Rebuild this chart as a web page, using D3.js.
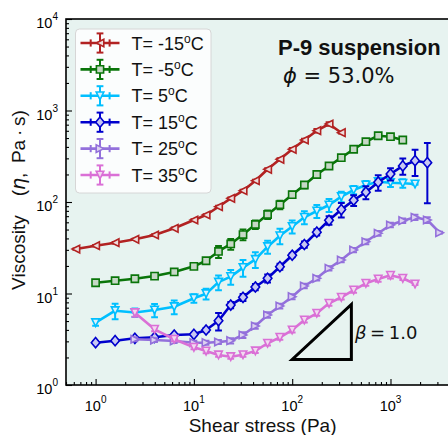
<!DOCTYPE html>
<html>
<head>
<meta charset="utf-8">
<script src="https://cdn.jsdelivr.net/npm/d3@7"></script>
<style>
  body { margin: 0; background: #ffffff; }
  svg { display: block; }
</style>
</head>
<body>
<svg id="chart" width="448" height="435"></svg>
<script>
// Shear stress (Pa), viscosity (Pa·s) and its error for each temperature
const stressM15 = [0.63, 1.0, 1.58, 2.51, 3.98, 6.31, 10.0, 13.3, 17.8, 23.7, 31.6, 42.2, 56.2, 75.0, 100, 133, 178, 237, 316];
const etaM15    = [30.6, 33.3, 35.9, 39.1, 43.6, 51.6, 63.6, 72.1, 88.8, 109.7, 132.9, 170.9, 227.7, 292.9, 376.7, 476, 601.6, 712, 572];
const errM15    = [0.5, 0.5, 0.6, 0.6, 0.7, 0.9, 1.2, 1.5, 2, 2.5, 3, 4, 6, 8, 12, 15, 25, 30, 10];

const stressM5 = [1.0, 1.58, 2.51, 3.98, 6.31, 10.0, 13.3, 17.8, 23.7, 31.6, 42.2, 56.2, 75.0, 100, 133, 178, 237, 316, 422, 562, 750, 1000, 1334];
const etaM5    = [13.1, 13.8, 14.5, 15.5, 17.2, 19.8, 22.8, 28.8, 34.8, 44.1, 56.8, 73.0, 93.4, 120.2, 153.4, 199.8, 247.4, 305, 377, 456, 530, 517, 476];
const errM5    = [0.3, 0.3, 0.3, 0.4, 0.8, 1.0, 1.5, 4.3, 4.7, 5.9, 6.0, 7.7, 10, 9.4, 12, 10, 12, 15, 10, 12, 13, 13, 12];

const stressP5 = [1.0, 1.58, 2.51, 3.98, 6.31, 10.0, 13.3, 17.8, 23.7, 31.6, 42.2, 56.2, 75.0, 100, 133, 178, 237, 316, 422, 562, 750, 1000, 1334, 1778];
const etaP5    = [4.80, 6.49, 6.20, 6.60, 7.17, 8.88, 9.95, 13.3, 15.3, 19.2, 23.6, 32.5, 42.7, 54.0, 68.0, 79.7, 92.7, 114.3, 135.2, 153.4, 166.7, 162.5, 160.1, 157.3];
const errP5    = [0.37, 1.25, 0.66, 1.1, 1.23, 0.94, 1.33, 2.45, 2.8, 4.0, 4.6, 5.3, 8.2, 8.8, 11, 13, 15, 15, 14, 16, 13, 17, 17, 3];

const stressP15 = [1.0, 1.58, 2.51, 3.98, 6.31, 10.0, 13.3, 17.8, 23.7, 31.6, 42.2, 56.2, 75.0, 100, 133, 178, 237, 316, 422, 562, 750, 1000, 1334, 1778, 2371];
const etaP15    = [2.90, 3.05, 3.24, 3.32, 3.52, 3.58, 3.99, 5.04, 7.48, 9.09, 11.78, 14.66, 19.63, 26.2, 34.3, 46.8, 63.1, 82.6, 104.4, 128, 164.6, 202.3, 248.1, 282.7, 268.8];
const errP15    = [0.1, 0.1, 0.1, 0.1, 0.1, 0.1, 0.2, 1.1, 0.6, 0.8, 0.9, 1.5, 1.5, 1.3, 2.7, 3.7, 6.7, 15, 14, 21, 32, 31, 50, 90, 172];

const stressP25 = [2.51, 3.98, 6.31, 10.0, 13.3, 17.8, 23.7, 31.6, 42.2, 56.2, 75.0, 100, 133, 178, 237, 316, 422, 562, 750, 1000, 1334, 1778, 2371, 3162];
const etaP25    = [3.16, 3.10, 3.03, 2.90, 2.90, 2.95, 3.05, 3.52, 4.41, 5.82, 7.30, 9.23, 12.08, 14.66, 18.86, 23.2, 29.9, 36.8, 45.5, 56.1, 62.5, 68.0, 63.6, 46.2];
const errP25    = [0.15, 0.15, 0.15, 0.15, 0.15, 0.15, 0.2, 0.25, 0.3, 0.4, 0.45, 0.6, 0.7, 0.8, 1.0, 1.3, 1.6, 2.2, 2.6, 3.2, 3.5, 4.5, 4.5, 1.0];

const stressP35 = [2.51, 3.98, 6.31, 10.0, 13.3, 17.8, 23.7, 31.6, 42.2, 56.2, 75.0, 100, 133, 178, 237, 316, 422, 562, 750, 1000, 1334, 1778];
const etaP35    = [6.17, 4.06, 3.16, 2.58, 2.35, 2.13, 2.04, 2.14, 2.36, 2.86, 3.32, 3.99, 5.13, 6.08, 7.81, 9.09, 10.9, 12.93, 14.4, 15.8, 14.66, 12.7];
const errP35    = [0.6, 0.2, 0.15, 0.12, 0.12, 0.1, 0.1, 0.1, 0.12, 0.15, 0.2, 0.25, 0.3, 0.35, 0.45, 0.5, 0.7, 0.8, 1.0, 1.2, 0.6, 0.3];

const tempLabels = ["-15", "-5", "5", "15", "25", "35"];
const xTickValues = [1, 10, 100, 1000];
const xTickExps = ["0", "1", "2", "3"];
const yTickValues = [1, 10, 100, 1000, 10000];
const yTickExps = ["0", "1", "2", "3", "4"];

// Slope guide: β = 1.0
const slopeBeta = 1.0;
const slopeStart = [100, 1.9];
const slopeEnd = 400;

const series = [
  { t: tempLabels[0], x: stressM15, y: etaM15, e: errM15, color: "#b22222", fill: "#eddcdc", marker: "left" },
  { t: tempLabels[1], x: stressM5,  y: etaM5,  e: errM5,  color: "#0a750a", fill: "#c6d8c6", marker: "square" },
  { t: tempLabels[2], x: stressP5,  y: etaP5,  e: errP5,  color: "#00bfff", fill: "#dcf1fb", marker: "down" },
  { t: tempLabels[3], x: stressP15, y: etaP15, e: errP15, color: "#0000cd", fill: "#c8c8f2", marker: "diamond" },
  { t: tempLabels[4], x: stressP25, y: etaP25, e: errP25, color: "#9370db", fill: "#dcd2f0", marker: "right" },
  { t: tempLabels[5], x: stressP35, y: etaP35, e: errP35, color: "#da70d6", fill: "#f2d9f0", marker: "down" }
];

const L = 66, T = 19, B = 385, R = 459.2;
const x = d3.scaleLog().domain([0.5, 5000]).range([L, R]);
const y = d3.scaleLog().domain([1, 10000]).range([B, T]);

const svg = d3.select("#chart");
const sansFont = "'Liberation Sans', Arial, Helvetica, sans-serif";
const mathFont = "'DejaVu Sans', sans-serif";

svg.append("defs").append("clipPath").attr("id", "plotClip")
  .append("rect").attr("x", L).attr("y", T).attr("width", R - L).attr("height", B - T);

// plot background
svg.append("rect").attr("x", L).attr("y", T).attr("width", R - L).attr("height", B - T)
  .attr("fill", "#e7f3f0");

function markerPath(type) {
  const r = 3.8;
  switch (type) {
    case "left":   return `M${-r},0L${r},${-r}L${r},${r}Z`;
    case "right":  return `M${r},0L${-r},${-r}L${-r},${r}Z`;
    case "down":   return `M0,${r}L${-r},${-r}L${r},${-r}Z`;
    case "square": { const s = 3.6; return `M${-s},${-s}H${s}V${s}H${-s}Z`; }
    case "diamond": return `M0,${-5.1}L${4.3},0L0,${5.1}L${-4.3},0Z`;
  }
}

const plot = svg.append("g").attr("clip-path", "url(#plotClip)");

// slope triangle
const slopeTop = slopeStart[1] * Math.pow(slopeEnd / slopeStart[0], slopeBeta);
plot.append("path")
  .attr("d", `M${x(slopeStart[0])},${y(slopeStart[1])}L${x(slopeEnd)},${y(slopeStart[1])}L${x(slopeEnd)},${y(slopeTop)}Z`)
  .attr("fill", "none").attr("stroke", "#000").attr("stroke-width", 3).attr("stroke-linejoin", "miter");

const line = d3.line().x(d => x(d[0])).y(d => y(d[1]));
const capHalf = 3.4;

series.forEach(s => {
  const pts = s.x.map((v, i) => [v, s.y[i], s.e[i]]);
  const g = plot.append("g");
  // error bars
  const eb = g.append("g").attr("stroke", s.color).attr("stroke-width", 2);
  pts.forEach(p => {
    const lo = Math.max(p[1] - p[2], 0.01), hi = p[1] + p[2];
    const px = x(p[0]);
    eb.append("line").attr("x1", px).attr("x2", px).attr("y1", y(lo)).attr("y2", y(hi));
    eb.append("line").attr("x1", px - capHalf).attr("x2", px + capHalf).attr("y1", y(lo)).attr("y2", y(lo));
    eb.append("line").attr("x1", px - capHalf).attr("x2", px + capHalf).attr("y1", y(hi)).attr("y2", y(hi));
  });
  g.append("path").datum(pts).attr("d", line)
    .attr("fill", "none").attr("stroke", s.color).attr("stroke-width", 2.6).attr("stroke-linejoin", "round");
  g.selectAll("path.mk").data(pts).join("path").attr("class", "mk")
    .attr("transform", p => `translate(${x(p[0])},${y(p[1])})`)
    .attr("d", markerPath(s.marker))
    .attr("fill", s.fill).attr("stroke", s.color).attr("stroke-width", 1.6);
});

// ticks (pointing inward)
const isMajor = v => Math.abs(Math.log10(v) - Math.round(Math.log10(v))) < 1e-9;
const xMinor = x.ticks().filter(v => !isMajor(v));
const yMinor = y.ticks().filter(v => !isMajor(v));

function styleAxis(g) {
  g.select(".domain").remove();
  g.selectAll("line").attr("stroke", "#000").attr("stroke-width", 1.1);
  g.selectAll("text").remove();
}
svg.append("g").attr("transform", `translate(0,${B})`)
  .call(d3.axisBottom(x).tickValues(xTickValues).tickSize(-6).tickSizeOuter(0).tickFormat(""))
  .call(styleAxis);
svg.append("g").attr("transform", `translate(0,${B})`)
  .call(d3.axisBottom(x).tickValues(xMinor).tickSize(-3).tickSizeOuter(0).tickFormat(""))
  .call(styleAxis);
svg.append("g").attr("transform", `translate(${L},0)`)
  .call(d3.axisLeft(y).tickValues(yTickValues).tickSize(-6).tickSizeOuter(0).tickFormat(""))
  .call(styleAxis);
svg.append("g").attr("transform", `translate(${L},0)`)
  .call(d3.axisLeft(y).tickValues(yMinor).tickSize(-3).tickSizeOuter(0).tickFormat(""))
  .call(styleAxis);

// frame
svg.append("rect").attr("x", L).attr("y", T).attr("width", R - L).attr("height", B - T)
  .attr("fill", "none").attr("stroke", "#000").attr("stroke-width", 1.6);

// tick labels 10^n
xTickValues.forEach((v, i) => {
  const t = svg.append("text").attr("x", x(v)).attr("y", 411)
    .attr("text-anchor", "middle").attr("font-family", sansFont).attr("font-size", 14.5).attr("fill", "#000");
  t.append("tspan").text("10");
  t.append("tspan").attr("dy", -8).attr("font-size", 10).text(xTickExps[i]);
});
yTickValues.forEach((v, i) => {
  const t = svg.append("text").attr("x", 58).attr("y", y(v) + 9)
    .attr("text-anchor", "end").attr("font-family", sansFont).attr("font-size", 14.5).attr("fill", "#000");
  t.append("tspan").text("10");
  t.append("tspan").attr("dy", -8).attr("font-size", 10).text(yTickExps[i]);
});

// axis titles
svg.append("text").attr("x", (L + R) / 2).attr("y", 432).attr("text-anchor", "middle")
  .attr("font-family", sansFont).attr("font-size", 19).attr("fill", "#111").text("Shear stress (Pa)");
const yl = svg.append("text").attr("transform", `translate(25,200) rotate(-90)`)
  .attr("text-anchor", "middle").attr("font-family", sansFont).attr("font-size", 19).attr("fill", "#111");
yl.append("tspan").text("Viscosity\u2003(");
yl.append("tspan").attr("font-family", mathFont).attr("font-style", "italic").text("\u03b7");
yl.append("tspan").text(",\u2002Pa\u2009\u00b7\u2009s)");

// annotations
svg.append("text").attr("x", 278).attr("y", 55).attr("font-family", sansFont).attr("font-weight", "bold")
  .attr("font-size", 22).attr("fill", "#111").text("P-9 suspension");
const phi = svg.append("text").attr("x", 283).attr("y", 83).attr("font-family", mathFont)
  .attr("font-size", 21).attr("fill", "#111");
phi.append("tspan").attr("font-style", "italic").text("\u03d5");
phi.append("tspan").text(" = 53.0%");
const beta = svg.append("text").attr("x", 355).attr("y", 339).attr("font-family", mathFont)
  .attr("font-size", 18).attr("fill", "#111");
beta.append("tspan").attr("font-style", "italic").text("\u03b2");
beta.append("tspan").text("\u2009=\u2009" + slopeBeta.toFixed(1));

// legend
const lg = svg.append("g");
lg.append("rect").attr("x", 75.5).attr("y", 29).attr("width", 135.5).attr("height", 164).attr("rx", 4)
  .attr("fill", "#ffffff").attr("fill-opacity", 0.82).attr("stroke", "#d6d6d6").attr("stroke-width", 1);
series.forEach((s, i) => {
  const cy = 43 + i * 26.4;
  const cx = 100;
  const h = lg.append("g").attr("stroke", s.color);
  h.append("line").attr("x1", 80.5).attr("x2", 119.5).attr("y1", cy).attr("y2", cy).attr("stroke-width", 2.6);
  h.append("line").attr("x1", 90.7).attr("x2", 90.7).attr("y1", cy - 3.6).attr("y2", cy + 3.6).attr("stroke-width", 2);
  h.append("line").attr("x1", 109.6).attr("x2", 109.6).attr("y1", cy - 3.6).attr("y2", cy + 3.6).attr("stroke-width", 2);
  h.append("line").attr("x1", cx).attr("x2", cx).attr("y1", cy - 9.6).attr("y2", cy + 9.6).attr("stroke-width", 2);
  h.append("line").attr("x1", cx - capHalf).attr("x2", cx + capHalf).attr("y1", cy - 9.6).attr("y2", cy - 9.6).attr("stroke-width", 2);
  h.append("line").attr("x1", cx - capHalf).attr("x2", cx + capHalf).attr("y1", cy + 9.6).attr("y2", cy + 9.6).attr("stroke-width", 2);
  h.append("path").attr("transform", `translate(${cx},${cy})`).attr("d", markerPath(s.marker))
    .attr("fill", s.fill).attr("stroke-width", 1.6);
  const t = lg.append("text").attr("x", 131.5).attr("y", cy + 6.5)
    .attr("font-family", sansFont).attr("font-size", 18).attr("fill", "#111");
  t.append("tspan").text("T= " + s.t);
  t.append("tspan").attr("dy", -7).attr("font-size", 12).text("o");
  t.append("tspan").attr("dy", 7).text("C");
});
</script>
</body>
</html>
